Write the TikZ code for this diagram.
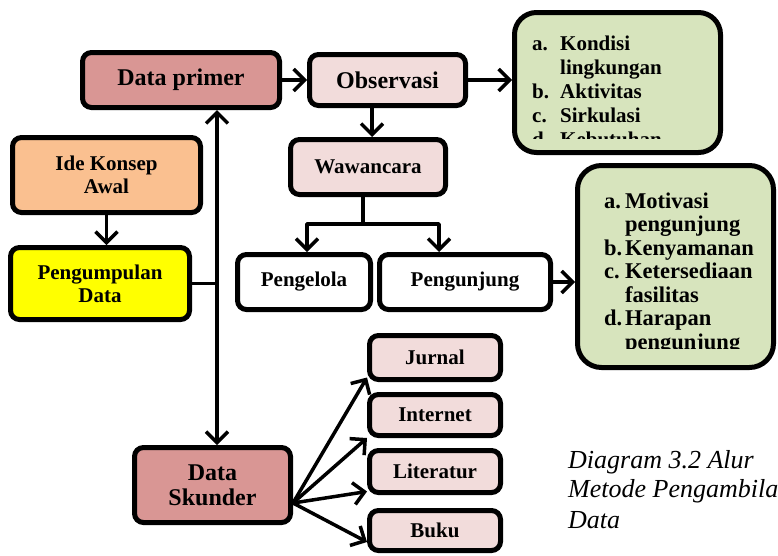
\documentclass[tikz,border=0pt]{standalone}
\usepackage{fontspec}
\setmainfont{Liberation Serif}
\usetikzlibrary{arrows.meta}

\definecolor{roseDark}{HTML}{D99694}
\definecolor{roseLight}{HTML}{F2DCDB}
\definecolor{sage}{HTML}{D7E4BD}
\definecolor{peach}{HTML}{FAC090}
\definecolor{lemon}{HTML}{FFFF00}

\begin{document}
\begin{tikzpicture}[x=1pt,y=-1pt,
  box/.style={draw=black, line width=5pt, rounded corners=9pt, inner sep=0pt,
              align=center, text=black},
  bigtext/.style={font=\bfseries\fontsize{24}{25}\selectfont},
  midtext/.style={font=\bfseries\fontsize{21}{23}\selectfont},
  listtext/.style={font=\bfseries\fontsize{21}{23}\selectfont, anchor=base west, inner sep=0pt},
  listwide/.style={listtext, font=\bfseries\fontsize{22.5}{24}\selectfont},
  captext/.style={font=\itshape\fontsize{26}{30}\selectfont, anchor=base west, inner sep=0pt},
  conn/.style={line width=3.5pt, line join=round},
  tip/.style={conn, -{Straight Barb[length=11pt,width=22pt]}},
  dtip/.style={conn, {Straight Barb[length=11pt,width=22pt]}-{Straight Barb[length=11pt,width=22pt]}},
]
\useasboundingbox (0,0) rectangle (778,555);

% left column
\node[box, fill=peach, minimum width=188pt, minimum height=75pt, midtext] (ik) at (106.5,175) {Ide Konsep\\Awal};
\node[box, fill=lemon, minimum width=179pt, minimum height=72pt, midtext] (pd) at (100,283.5) {Pengumpulan\\Data};

% primary data branch
\node[box, fill=roseDark, minimum width=197pt, minimum height=55pt, bigtext] (dp) at (181,80) {Data primer};
\node[box, fill=roseLight, minimum width=156pt, minimum height=51pt, bigtext] (ob) at (387.5,80) {Observasi};
\node[box, fill=roseLight, minimum width=155pt, minimum height=55pt, midtext] (ww) at (368,167) {Wawancara};
\node[box, fill=white, minimum width=133pt, minimum height=55pt, midtext] (pe) at (304,282) {Pengelola};
\node[box, fill=white, minimum width=171pt, minimum height=55pt, midtext] (pg) at (465,282) {Pengunjung};

% observation checklist
\node[box, fill=sage, rounded corners=22pt, minimum width=206pt, minimum height=140pt] (g1) at (617.5,82.5) {};
\begin{scope}
  \clip (516,14) rectangle (719,138);
  \node[listtext] (g1a) at (532,50) {a.};
  \node[listtext] (g1ai) at (560,50) {Kondisi};
  \node[listtext] (g1aii) at (560,74) {lingkungan};
  \node[listtext] (g1b) at (532,98) {b.};
  \node[listtext] (g1bi) at (560,98) {Aktivitas};
  \node[listtext] (g1c) at (532,122) {c.};
  \node[listtext] (g1ci) at (560,122) {Sirkulasi};
  \node[listtext] (g1d) at (532,146) {d.};
  \node[listtext] (g1di) at (560,146) {Kebutuhan};
\end{scope}

% visitor interview checklist
\node[box, fill=sage, rounded corners=24pt, minimum width=196pt, minimum height=202pt] (g2) at (675.5,266.5) {};
\begin{scope}
  \clip (579,168) rectangle (772,348);
  \node[listwide] (g2a) at (604,208) {a.};
  \node[listwide] (g2ai) at (625,208) {Motivasi};
  \node[listwide] (g2aii) at (625,231.5) {pengunjung};
  \node[listwide] (g2b) at (604,255) {b.};
  \node[listwide] (g2bi) at (625,255) {Kenyamanan};
  \node[listwide] (g2c) at (604,278.5) {c.};
  \node[listwide] (g2ci) at (625,278.5) {Ketersediaan};
  \node[listwide] (g2cii) at (625,302) {fasilitas};
  \node[listwide] (g2d) at (604,325.5) {d.};
  \node[listwide] (g2di) at (625,325.5) {Harapan};
  \node[listwide] (g2dii) at (625,349) {pengunjung};
\end{scope}

% secondary data branch
\node[box, fill=roseDark, minimum width=156pt, minimum height=75pt, bigtext] (ds) at (212.5,485) {Data\\Skunder};
\node[box, fill=roseLight, minimum width=131pt, minimum height=44pt, midtext] (ju) at (435,357.5) {Jurnal};
\node[box, fill=roseLight, minimum width=131pt, minimum height=41pt, midtext] (it) at (435,415) {Internet};
\node[box, fill=roseLight, minimum width=131pt, minimum height=42pt, midtext] (li) at (435,471.5) {Literatur};
\node[box, fill=roseLight, minimum width=131pt, minimum height=40pt, midtext] (bu) at (435,530.5) {Buku};

% caption, one line per node
\node[captext] (cap1) at (568,468) {Diagram 3.2 Alur};
\node[captext] (cap2) at (568,497.5) {Metode Pengambilan};
\node[captext] (cap3) at (568,528) {Data};

% connectors
\coordinate (jn) at (217,283.5);
\coordinate (split) at (363,224);
\coordinate (obdown) at (372,0);
\coordinate (peIn) at (307,0);
\coordinate (pgIn) at (439,0);
\coordinate (dsOut) at (293,503);

\draw[tip] (ik) -- (ik |- pd.north);
\draw[conn] (pd.east) -- (jn);
\draw[dtip] (dp.south -| jn) -- (ds.north -| jn);
\draw[tip] (dp) -- (ob);
\draw[tip] (ob) -- (g1.west |- ob);
\draw[tip] (ob.south -| obdown) -- (ww.north -| obdown);
\draw[conn] (ww.south -| split) -- (split);
\draw[tip] (split) -| (pe.north -| peIn);
\draw[tip] (split) -| (pg.north -| pgIn);
\draw[tip] (pg) -- (g2.west |- pg);

\draw[tip] (dsOut) -- ([yshift=4.5pt]ju.south west);
\draw[tip] (dsOut) -- (it.south west);
\draw[tip] (dsOut) -- ([yshift=3.5pt]li.south west);
\draw[tip] (dsOut) -- ([yshift=-11.5pt]bu.west);
\end{tikzpicture}
\end{document}
